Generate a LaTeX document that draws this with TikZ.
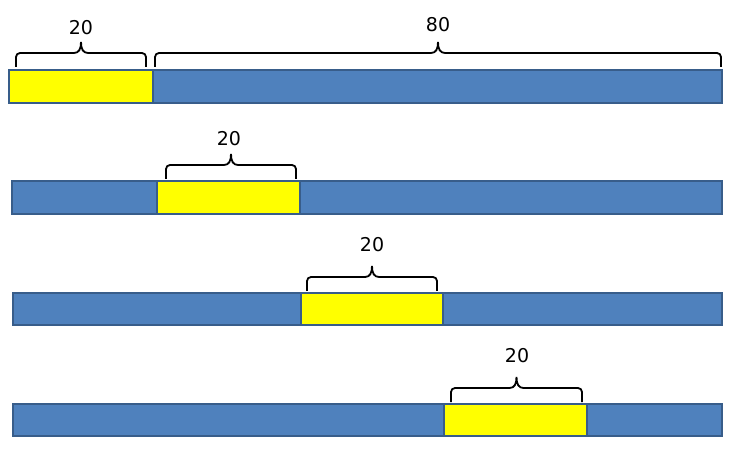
\documentclass[tikz,border=0pt]{standalone}
\usepackage{fontspec}
\setmainfont{DejaVu Sans}
\usetikzlibrary{calc}

\definecolor{barblue}{HTML}{4F81BD}
\definecolor{barline}{HTML}{385D8A}
\definecolor{markyellow}{HTML}{FFFF00}

\tikzset{
  seg/.style={draw=barline, line width=1.5pt, inner sep=0pt, outer sep=0pt,
    minimum height=33pt, anchor=north west},
  blueseg/.style={seg, fill=barblue},
  yellowseg/.style={seg, fill=markyellow},
  lbl/.style={font=\fontsize{19}{22}\selectfont},
  bracepath/.style={line width=1.8pt}
}

% curly bracket over a bar: left x, right x, height of its flat part
\newcommand{\sizebrace}[3]{%
  \draw[bracepath] (#1,#3+14) -- (#1,#3+4) arc[start angle=180, end angle=270, radius=4]
    -- ({(#1+#2)/2-7},#3) .. controls ({(#1+#2)/2-2},#3) and ({(#1+#2)/2},#3-4) .. ({(#1+#2)/2},#3-11)
    .. controls ({(#1+#2)/2},#3-4) and ({(#1+#2)/2+2},#3) .. ({(#1+#2)/2+7},#3)
    -- (#2-4,#3) arc[start angle=-90, end angle=0, radius=4] -- (#2,#3+14);
}

\begin{document}
\begin{tikzpicture}[x=1pt, y=-1pt]
\useasboundingbox (0,0) rectangle (747,470);

% first bar
\node[yellowseg, minimum width=144pt] (ya) at (9,70) {};
\node[blueseg, minimum width=569pt] (ba) at (153,70) {};
\sizebrace{16}{146}{53}
\sizebrace{155}{721}{53}
\node[lbl] (la) at (81,28) {20};
\node[lbl] (lb) at (438,25) {80};

% second bar
\node[blueseg, minimum width=145pt] (bb1) at (12,181) {};
\node[blueseg, minimum width=422pt] (bb2) at (300,181) {};
\node[yellowseg, minimum width=143pt] (yb) at (157,181) {};
\sizebrace{166}{296}{165}
\node[lbl] (lc) at (229,139) {20};

% third bar
\node[blueseg, minimum width=288pt, minimum height=32pt] (bc1) at (13,293) {};
\node[blueseg, minimum width=279pt, minimum height=32pt] (bc2) at (443,293) {};
\node[yellowseg, minimum width=142pt, minimum height=32pt] (yc) at (301,293) {};
\sizebrace{307}{437}{277}
\node[lbl] (ld) at (372,245) {20};

% fourth bar
\node[blueseg, minimum width=431pt, minimum height=32pt] (bd1) at (13,404) {};
\node[blueseg, minimum width=135pt, minimum height=32pt] (bd2) at (587,404) {};
\node[yellowseg, minimum width=143pt, minimum height=32pt] (yd) at (444,404) {};
\sizebrace{451}{582}{388}
\node[lbl] (le) at (517,356) {20};

\end{tikzpicture}
\end{document}
